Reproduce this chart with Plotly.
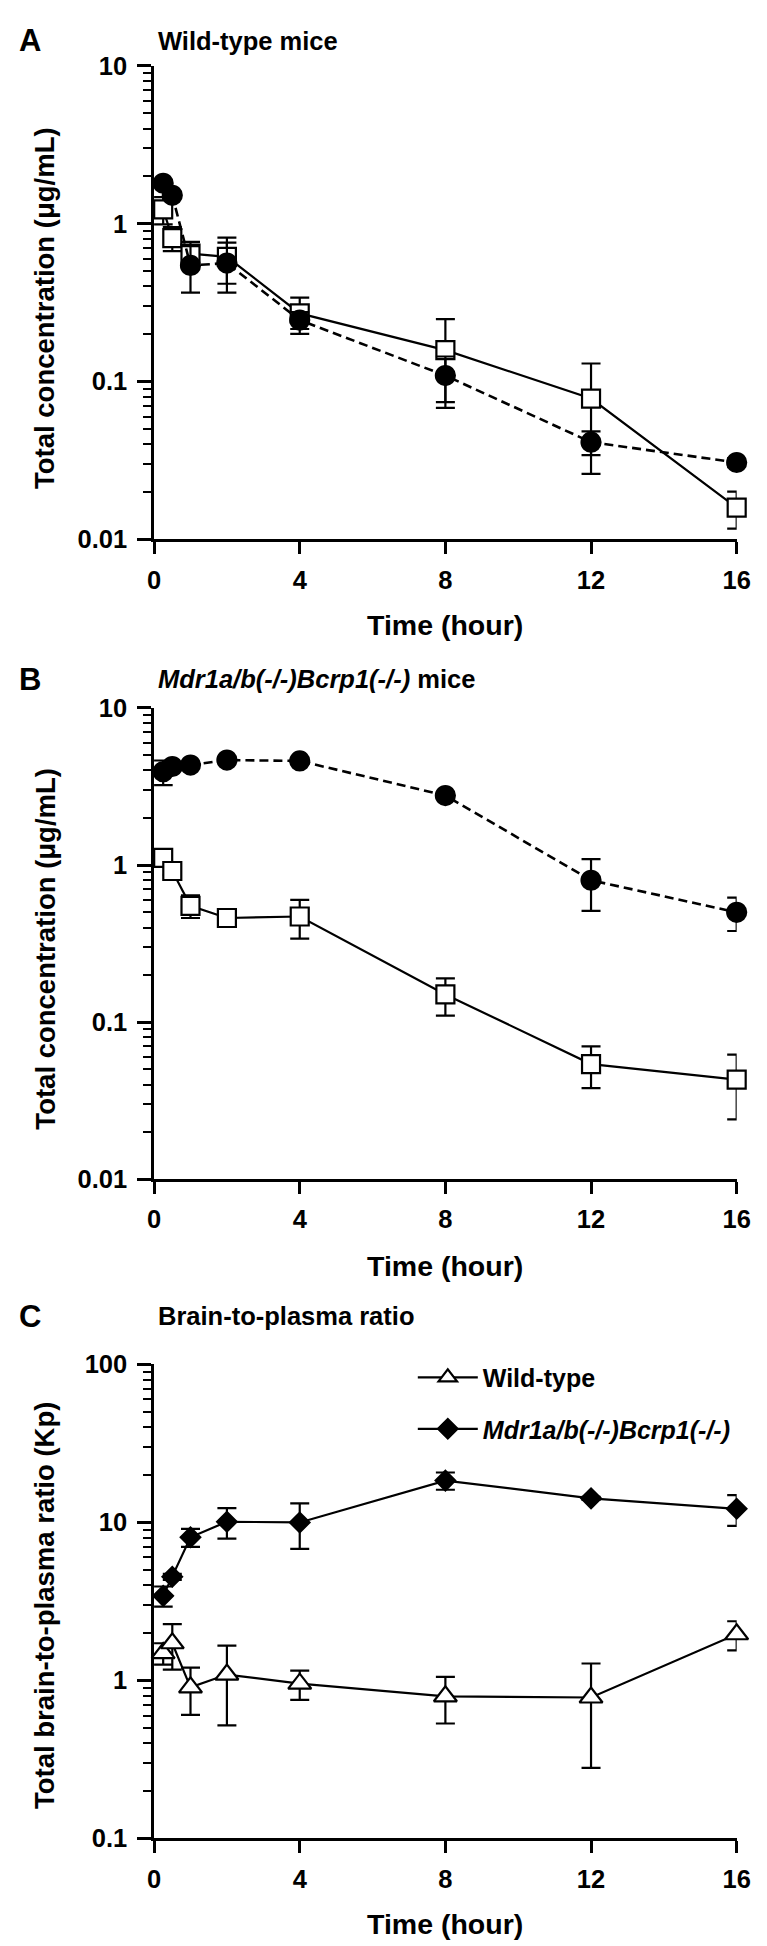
import plotly.graph_objects as go

# ---------------- data ----------------
time_h = [0.25, 0.5, 1, 2, 4, 8, 12, 16]

# Panel A: wild-type mice (total concentration, ug/mL)
wt_plasma = [1.23, 0.81, 0.645, 0.616, 0.27, 0.158, 0.078, 0.0159]
wt_plasma_sd = [0.24, 0.14, 0.12, 0.20, 0.07, 0.09, 0.052, 0.0042]
wt_brain = [1.80, 1.51, 0.543, 0.562, 0.245, 0.109, 0.0413, 0.0307]
wt_brain_sd = [0.05, 0.05, 0.177, 0.196, 0.03, 0.035, 0.0071, 0.002]

# Panel B: Mdr1a/b(-/-)Bcrp1(-/-) mice
ko_plasma = [1.11, 0.916, 0.55, 0.46, 0.47, 0.15, 0.054, 0.043]
ko_plasma_sd = [0.05, 0.05, 0.09, 0.04, 0.13, 0.04, 0.016, 0.019]
ko_brain = [3.93, 4.24, 4.33, 4.66, 4.60, 2.77, 0.80, 0.50]
ko_brain_sd = [0.70, 0.1, 0.1, 0.1, 0.1, 0.1, 0.29, 0.12]

# Panel C: brain-to-plasma ratio (Kp)
wt_kp = [1.49, 1.72, 0.905, 1.09, 0.954, 0.794, 0.78, 1.96]
wt_kp_sd = [0.23, 0.55, 0.30, 0.57, 0.20, 0.26, 0.50, 0.41]
ko_kp = [3.43, 4.53, 8.06, 10.1, 10.0, 18.4, 14.2, 12.2]
ko_kp_sd = [0.50, 0.2, 1.05, 2.2, 3.2, 2.3, 0.3, 2.7]

x_ticks = [0, 4, 8, 12, 16]
conc_ticks = [0.01, 0.1, 1, 10]
conc_ticktext = ["0.01", "0.1", "1", "10"]
kp_ticks = [0.1, 1, 10, 100]
kp_ticktext = ["0.1", "1", "10", "100"]

panel_titles = ["Wild-type mice", "<i>Mdr1a/b(-/-)Bcrp1(-/-)</i> mice", "Brain-to-plasma ratio"]
panel_letters = ["A", "B", "C"]
y_titles = ["Total concentration (\u03bcg/mL)", "Total concentration (\u03bcg/mL)",
            "Total brain-to-plasma ratio (Kp)"]
x_title = "Time (hour)"
legend_names = ["Wild-type", "<i>Mdr1a/b(-/-)Bcrp1(-/-)</i>"]

# ---------------- layout geometry (pixels) ----------------
W, H = 767, 1946
FONT = "Liberation Sans, Arial, sans-serif"
x0_px, x1_px = 143, 742
panels_px = [(44.3, 525), (696, 1174), (1362, 1843)]   # top, bottom of plot area
title_y_px = [19, 667, 1313]
ytitle_y_px = [290, 940, 1607]
xtitle_y_px = [612, 1262, 1930]


def py(px):
    return 1 - px / H


def px_x(px):
    return px / W


def minor_vals(lo, hi):
    return [m * 10 ** e for e in range(lo, hi) for m in range(2, 10)]


fig = go.Figure()


def add(x, y, sd, axis, symbol, size, filled, dash, lw, name=None, legend=False, group=None):
    fig.add_trace(go.Scatter(
        x=x, y=y, xaxis="x" + axis, yaxis="y" + axis,
        mode="lines+markers",
        name=name, showlegend=legend, legendgroup=group,
        line=dict(color="black", width=lw, dash=dash),
        marker=dict(symbol=symbol, size=size,
                    color="black" if filled else "white",
                    line=dict(color="black", width=2.2)),
        error_y=dict(type="data", array=sd, visible=True, color="black",
                     thickness=2.2, width=9.5),
        cliponaxis=False,
    ))


# Panel A
add(time_h, wt_plasma, wt_plasma_sd, "", "square", 18, False, "solid", 2.2)
add(time_h, wt_brain, wt_brain_sd, "", "circle", 19, True, "9px,5px", 2.6)
# Panel B
add(time_h, ko_plasma, ko_plasma_sd, "2", "square", 18, False, "solid", 2.2)
add(time_h, ko_brain, ko_brain_sd, "2", "circle", 19, True, "9px,5px", 2.6)
# Panel C
add(time_h, wt_kp, wt_kp_sd, "3", "triangle-up", 20, False, "solid", 2.2,
    name=legend_names[0], legend=True, group="g1")
add(time_h, ko_kp, ko_kp_sd, "3", "diamond", 15, True, "solid", 2.2,
    name=legend_names[1], legend=True, group="g2")

axis_common = dict(showline=True, linecolor="black", linewidth=2.5, showgrid=False,
                   zeroline=False, ticks="outside", tickcolor="black", tickwidth=2.5,
                   tickfont=dict(family=FONT, size=25.5, color="black", weight="bold"))

layout = dict(
    width=W, height=H, margin=dict(l=0, r=0, t=0, b=0),
    paper_bgcolor="white", plot_bgcolor="white",
    showlegend=True,
    legend=dict(x=px_x(409), y=py(1352), xanchor="left", yanchor="top",
                font=dict(family=FONT, size=25, color="black", weight="bold"),
                bgcolor="rgba(0,0,0,0)", itemwidth=60, tracegroupgap=16,
                traceorder="grouped"),
)

ylog_ranges = [[-2, 1], [-2, 1], [-1, 2]]
ytickvals = [conc_ticks, conc_ticks, kp_ticks]
yticktexts = [conc_ticktext, conc_ticktext, kp_ticktext]
minor_ranges = [(-2, 1), (-2, 1), (-1, 2)]

annotations = []
for i in range(3):
    sfx = "" if i == 0 else str(i + 1)
    top, bot = panels_px[i]
    layout["xaxis" + sfx] = dict(
        axis_common, domain=[px_x(x0_px), px_x(x1_px)], range=[0, 16],
        tickvals=x_ticks, ticklen=12, anchor="y" + sfx, ticklabelstandoff=4)
    layout["yaxis" + sfx] = dict(
        axis_common, domain=[py(bot), py(top)], type="log", range=ylog_ranges[i],
        tickvals=ytickvals[i], ticktext=yticktexts[i], ticklen=14, anchor="x" + sfx,
        ticklabelstandoff=5,
        minor=dict(tickvals=minor_vals(*minor_ranges[i]), ticks="outside", ticklen=8,
                   tickwidth=2, tickcolor="black"))
    annotations.append(dict(text="<b>%s</b>" % panel_letters[i], xref="paper", yref="paper",
                            x=px_x(2), y=py(title_y_px[i]), xanchor="left", yanchor="middle",
                            showarrow=False, font=dict(family=FONT, size=31, color="black")))
    annotations.append(dict(text="<b>%s</b>" % panel_titles[i], xref="paper", yref="paper",
                            x=px_x(145), y=py(title_y_px[i]), xanchor="left", yanchor="middle",
                            showarrow=False, font=dict(family=FONT, size=25.5, color="black")))
    annotations.append(dict(text="<b>%s</b>" % y_titles[i], xref="paper", yref="paper",
                            x=px_x(31), y=py(ytitle_y_px[i]), xanchor="center", yanchor="middle",
                            textangle=-90, showarrow=False,
                            font=dict(family=FONT, size=27.5, color="black")))
    annotations.append(dict(text="<b>%s</b>" % x_title, xref="paper", yref="paper",
                            x=px_x((x0_px + x1_px) / 2), y=py(xtitle_y_px[i]),
                            xanchor="center", yanchor="middle", showarrow=False,
                            font=dict(family=FONT, size=28.5, color="black")))

layout["annotations"] = annotations
fig.update_layout(**layout)
fig.write_html("out.html")
